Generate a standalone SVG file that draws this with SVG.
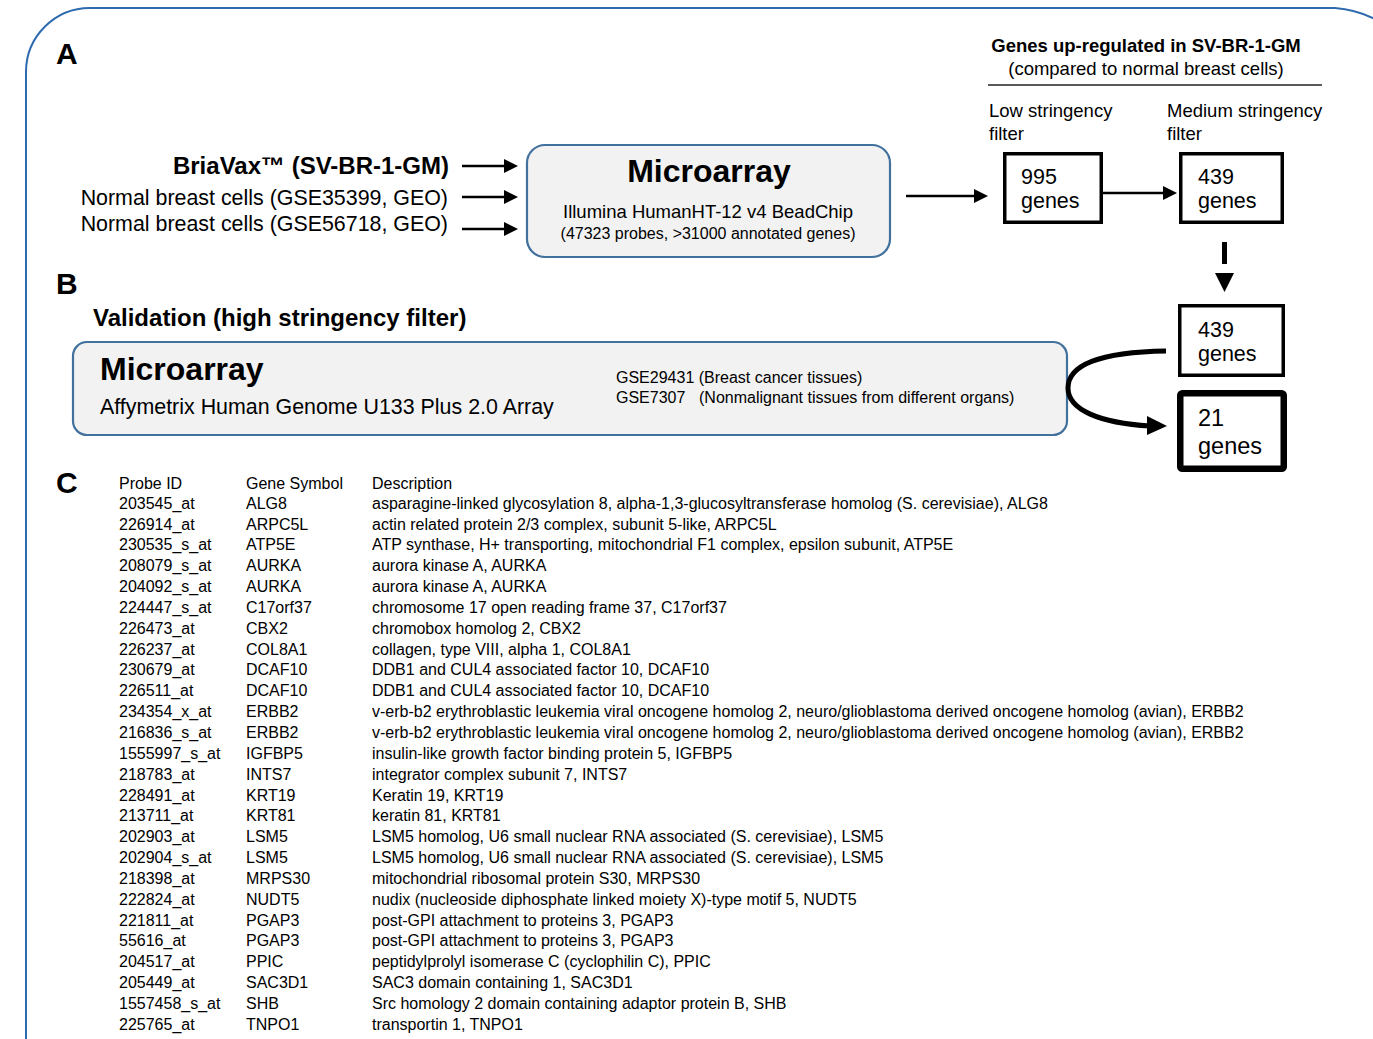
<svg xmlns="http://www.w3.org/2000/svg" width="1373" height="1039" viewBox="0 0 1373 1039">
<defs>
<style>
text{font-family:"Liberation Sans",Arial,sans-serif;fill:#000}
.b{font-weight:bold}
.lbl{font-size:30px;font-weight:bold}
.panel{fill:#f2f2f2;stroke:#41719c;stroke-width:2.2}
.gbox{fill:#fff;stroke:#000;stroke-width:3.5}
.arr{stroke:#000;stroke-width:2.5;fill:none}
.tb{font-size:16px}
</style>
<marker id="ah" markerUnits="userSpaceOnUse" markerWidth="16" markerHeight="16" refX="2" refY="7" orient="auto">
<path d="M0,0 L14,7 L0,14 z" fill="#000"/>
</marker>
</defs>
<rect width="1373" height="1039" fill="#fff"/>
<path d="M26,1045 L26,72 A64,64 0 0 1 90,8 L1335,8 A110,110 0 0 1 1420,60" fill="none" stroke="#2e6aae" stroke-width="2"/>

<g id="labels">
<text class="lbl" x="56" y="64">A</text>
<text class="lbl" x="56" y="294">B</text>
<text class="lbl" x="56" y="493">C</text>
</g>

<g id="inputs">
<text class="b" x="449" y="174" font-size="24" text-anchor="end">BriaVax™ (SV-BR-1-GM)</text>
<text x="448" y="204.5" font-size="21.4" text-anchor="end">Normal breast cells (GSE35399, GEO)</text>
<text x="448" y="230.5" font-size="21.4" text-anchor="end">Normal breast cells (GSE56718, GEO)</text>
</g>

<g id="microarray-a">
<rect class="panel" x="527" y="145" width="363" height="112" rx="18"/>
<text class="b" x="709" y="182" font-size="32" text-anchor="middle">Microarray</text>
<text x="708" y="217.6" font-size="18.5" text-anchor="middle">Illumina HumanHT-12 v4 BeadChip</text>
<text x="708" y="238.7" font-size="16" text-anchor="middle">(47323 probes, &gt;31000 annotated genes)</text>
</g>

<g id="header-up">
<text class="b" x="1146" y="51.6" font-size="18.5" text-anchor="middle">Genes up-regulated in SV-BR-1-GM</text>
<text x="1146" y="74.6" font-size="18.5" text-anchor="middle">(compared to normal breast cells)</text>
<line x1="988" y1="85" x2="1322" y2="85" stroke="#595959" stroke-width="2"/>
<text x="989" y="117" font-size="18.5">Low stringency</text>
<text x="989" y="140" font-size="18.5">filter</text>
<text x="1167" y="117" font-size="18.5">Medium stringency</text>
<text x="1167" y="140" font-size="18.5">filter</text>
</g>

<g id="genes995">
<rect class="gbox" x="1004.75" y="153.75" width="96.5" height="68.5"/>
<text x="1021" y="183.5" font-size="21.5">995</text>
<text x="1021" y="207.5" font-size="21.5">genes</text>
</g>

<g id="genes439a">
<rect class="gbox" x="1180.75" y="153.75" width="101.5" height="68.5"/>
<text x="1198" y="183.5" font-size="21.5">439</text>
<text x="1198" y="207.5" font-size="21.5">genes</text>
</g>

<g id="validation">
<text class="b" x="93" y="325.5" font-size="24">Validation (high stringency filter)</text>
<rect class="panel" x="73" y="342" width="994" height="93" rx="14"/>
<text class="b" x="100" y="380" font-size="32">Microarray</text>
<text x="100" y="413.5" font-size="21.4">Affymetrix Human Genome U133 Plus 2.0 Array</text>
<text x="616" y="382.7" font-size="16">GSE29431 (Breast cancer tissues)</text>
<text x="616" y="402.7" font-size="16">GSE7307</text>
<text x="699" y="402.7" font-size="16">(Nonmalignant tissues from different organs)</text>
</g>

<g id="genes439b">
<rect class="gbox" x="1179.75" y="305.75" width="103.5" height="69.5"/>
<text x="1198" y="337" font-size="21.5">439</text>
<text x="1198" y="361" font-size="21.5">genes</text>
</g>

<g id="genes21">
<rect x="1180.25" y="393.25" width="103.5" height="75.5" rx="2" fill="#fff" stroke="#000" stroke-width="6.5"/>
<text x="1198" y="425.5" font-size="23.5">21</text>
<text x="1198" y="453.5" font-size="23.5">genes</text>
</g>

<g id="connectors">
<line class="arr" x1="462" y1="166" x2="506" y2="166" marker-end="url(#ah)"/>
<line class="arr" x1="462" y1="197" x2="506" y2="197" marker-end="url(#ah)"/>
<line class="arr" x1="462" y1="229" x2="506" y2="229" marker-end="url(#ah)"/>
<line class="arr" x1="906" y1="196" x2="976" y2="196" marker-end="url(#ah)"/>
<line class="arr" x1="1103" y1="193" x2="1165" y2="193" marker-end="url(#ah)"/>
<line x1="1224.5" y1="242" x2="1224.5" y2="264" stroke="#000" stroke-width="5"/>
<polygon points="1215,273 1234,273 1224.5,292" fill="#000"/>
<path d="M1166,351 C1100,352 1068,365 1068,388 C1068,410 1100,423 1150,426" fill="none" stroke="#000" stroke-width="5"/>
<polygon points="1147,416 1167,426 1147,435" fill="#000"/>
</g>

<g id="table" class="tb">
<text class="tb" x="119" y="488.7">Probe ID</text>
<text class="tb" x="246" y="488.7">Gene Symbol</text>
<text class="tb" x="372" y="488.7">Description</text>

<text class="tb" x="119" y="508.7">203545_at</text><text class="tb" x="246" y="508.7">ALG8</text><text class="tb" x="372" y="508.7">asparagine-linked glycosylation 8, alpha-1,3-glucosyltransferase homolog (S. cerevisiae), ALG8</text>
<text class="tb" x="119" y="529.5">226914_at</text><text class="tb" x="246" y="529.5">ARPC5L</text><text class="tb" x="372" y="529.5">actin related protein 2/3 complex, subunit 5-like, ARPC5L</text>
<text class="tb" x="119" y="550.4">230535_s_at</text><text class="tb" x="246" y="550.4">ATP5E</text><text class="tb" x="372" y="550.4">ATP synthase, H+ transporting, mitochondrial F1 complex, epsilon subunit, ATP5E</text>
<text class="tb" x="119" y="571.2">208079_s_at</text><text class="tb" x="246" y="571.2">AURKA</text><text class="tb" x="372" y="571.2">aurora kinase A, AURKA</text>
<text class="tb" x="119" y="592.1">204092_s_at</text><text class="tb" x="246" y="592.1">AURKA</text><text class="tb" x="372" y="592.1">aurora kinase A, AURKA</text>
<text class="tb" x="119" y="612.9">224447_s_at</text><text class="tb" x="246" y="612.9">C17orf37</text><text class="tb" x="372" y="612.9">chromosome 17 open reading frame 37, C17orf37</text>
<text class="tb" x="119" y="633.7">226473_at</text><text class="tb" x="246" y="633.7">CBX2</text><text class="tb" x="372" y="633.7">chromobox homolog 2, CBX2</text>
<text class="tb" x="119" y="654.6">226237_at</text><text class="tb" x="246" y="654.6">COL8A1</text><text class="tb" x="372" y="654.6">collagen, type VIII, alpha 1, COL8A1</text>
<text class="tb" x="119" y="675.4">230679_at</text><text class="tb" x="246" y="675.4">DCAF10</text><text class="tb" x="372" y="675.4">DDB1 and CUL4 associated factor 10, DCAF10</text>
<text class="tb" x="119" y="696.3">226511_at</text><text class="tb" x="246" y="696.3">DCAF10</text><text class="tb" x="372" y="696.3">DDB1 and CUL4 associated factor 10, DCAF10</text>
<text class="tb" x="119" y="717.1">234354_x_at</text><text class="tb" x="246" y="717.1">ERBB2</text><text class="tb" x="372" y="717.1">v-erb-b2 erythroblastic leukemia viral oncogene homolog 2, neuro/glioblastoma derived oncogene homolog (avian), ERBB2</text>
<text class="tb" x="119" y="737.9">216836_s_at</text><text class="tb" x="246" y="737.9">ERBB2</text><text class="tb" x="372" y="737.9">v-erb-b2 erythroblastic leukemia viral oncogene homolog 2, neuro/glioblastoma derived oncogene homolog (avian), ERBB2</text>
<text class="tb" x="119" y="758.8">1555997_s_at</text><text class="tb" x="246" y="758.8">IGFBP5</text><text class="tb" x="372" y="758.8">insulin-like growth factor binding protein 5, IGFBP5</text>
<text class="tb" x="119" y="779.6">218783_at</text><text class="tb" x="246" y="779.6">INTS7</text><text class="tb" x="372" y="779.6">integrator complex subunit 7, INTS7</text>
<text class="tb" x="119" y="800.5">228491_at</text><text class="tb" x="246" y="800.5">KRT19</text><text class="tb" x="372" y="800.5">Keratin 19, KRT19</text>
<text class="tb" x="119" y="821.3">213711_at</text><text class="tb" x="246" y="821.3">KRT81</text><text class="tb" x="372" y="821.3">keratin 81, KRT81</text>
<text class="tb" x="119" y="842.1">202903_at</text><text class="tb" x="246" y="842.1">LSM5</text><text class="tb" x="372" y="842.1">LSM5 homolog, U6 small nuclear RNA associated (S. cerevisiae), LSM5</text>
<text class="tb" x="119" y="863.0">202904_s_at</text><text class="tb" x="246" y="863.0">LSM5</text><text class="tb" x="372" y="863.0">LSM5 homolog, U6 small nuclear RNA associated (S. cerevisiae), LSM5</text>
<text class="tb" x="119" y="883.8">218398_at</text><text class="tb" x="246" y="883.8">MRPS30</text><text class="tb" x="372" y="883.8">mitochondrial ribosomal protein S30, MRPS30</text>
<text class="tb" x="119" y="904.7">222824_at</text><text class="tb" x="246" y="904.7">NUDT5</text><text class="tb" x="372" y="904.7">nudix (nucleoside diphosphate linked moiety X)-type motif 5, NUDT5</text>
<text class="tb" x="119" y="925.5">221811_at</text><text class="tb" x="246" y="925.5">PGAP3</text><text class="tb" x="372" y="925.5">post-GPI attachment to proteins 3, PGAP3</text>
<text class="tb" x="119" y="946.3">55616_at</text><text class="tb" x="246" y="946.3">PGAP3</text><text class="tb" x="372" y="946.3">post-GPI attachment to proteins 3, PGAP3</text>
<text class="tb" x="119" y="967.2">204517_at</text><text class="tb" x="246" y="967.2">PPIC</text><text class="tb" x="372" y="967.2">peptidylprolyl isomerase C (cyclophilin C), PPIC</text>
<text class="tb" x="119" y="988.0">205449_at</text><text class="tb" x="246" y="988.0">SAC3D1</text><text class="tb" x="372" y="988.0">SAC3 domain containing 1, SAC3D1</text>
<text class="tb" x="119" y="1008.9">1557458_s_at</text><text class="tb" x="246" y="1008.9">SHB</text><text class="tb" x="372" y="1008.9">Src homology 2 domain containing adaptor protein B, SHB</text>
<text class="tb" x="119" y="1029.7">225765_at</text><text class="tb" x="246" y="1029.7">TNPO1</text><text class="tb" x="372" y="1029.7">transportin 1, TNPO1</text>
</g>
</svg>
